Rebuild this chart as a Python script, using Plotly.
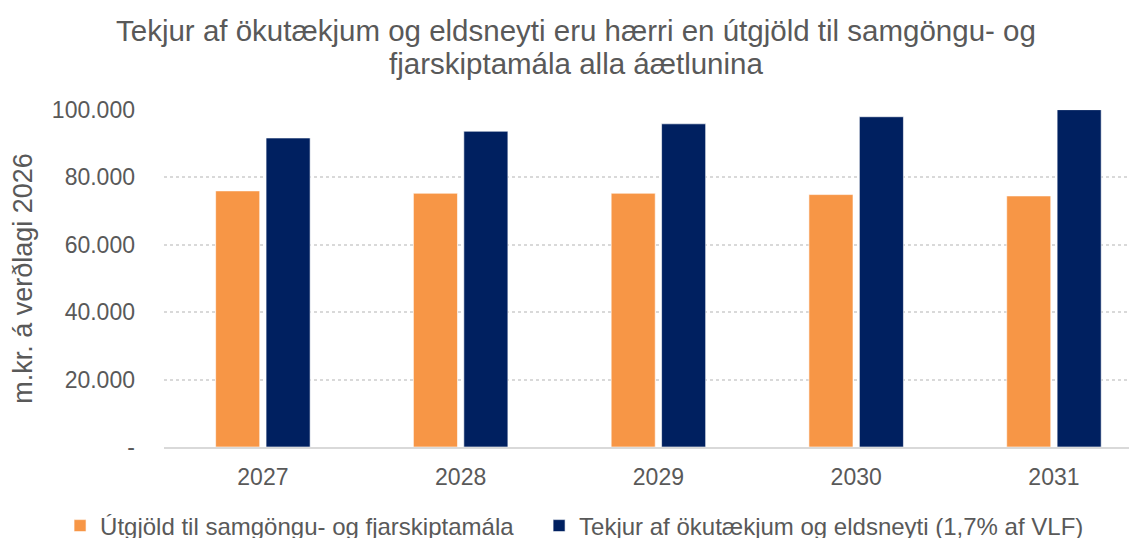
import plotly.graph_objects as go

years = ["2027", "2028", "2029", "2030", "2031"]
utgjold = [76000, 75300, 75300, 74900, 74500]
tekjur = [91700, 93700, 95900, 98000, 100100]
series_names = ["Útgjöld til samgöngu- og fjarskiptamála",
                "Tekjur af ökutækjum og eldsneyti (1,7% af VLF)"]
title_lines = ["Tekjur af ökutækjum og eldsneyti eru hærri en útgjöld til samgöngu- og",
               "fjarskiptamála alla áætlunina"]
tick_vals = [0, 20000, 40000, 60000, 80000, 100000]
tick_text = ["-", "20.000", "40.000", "60.000", "80.000", "100.000"]

FONT = "Liberation Sans, Arial, sans-serif"
GREY = "#595959"

fig = go.Figure()
fig.add_trace(go.Bar(x=years, y=utgjold, name=series_names[0], legend="legend",
                     marker=dict(color="#F79646", line=dict(color="rgba(255,255,255,0.6)", width=1))))
fig.add_trace(go.Bar(x=years, y=tekjur, name=series_names[1], legend="legend2",
                     marker=dict(color="#002060", line=dict(color="rgba(255,255,255,0.6)", width=1))))

legend_style = dict(orientation="h", xanchor="left", yref="container", y=0.0226,
                    yanchor="middle", xref="container",
                    font=dict(size=24, color=GREY, family=FONT), itemclick=False,
                    bgcolor="rgba(0,0,0,0)")

fig.update_layout(
    width=1129, height=530,
    paper_bgcolor="white", plot_bgcolor="white",
    margin=dict(l=156, r=0, t=102, b=91, autoexpand=False),
    font=dict(family=FONT, color=GREY, size=23),
    barmode="group", bargap=0.49, bargroupgap=0.126,
    showlegend=True,
    legend=dict(x=0.0461, **legend_style),
    legend2=dict(x=0.4704, **legend_style),
    annotations=[
        dict(text=title_lines[0], xref="paper", yref="paper", x=0.4234, y=1.237,
             xanchor="center", yanchor="middle", showarrow=False,
             font=dict(size=29.5, color=GREY, family=FONT)),
        dict(text=title_lines[1], xref="paper", yref="paper", x=0.4234, y=1.139,
             xanchor="center", yanchor="middle", showarrow=False,
             font=dict(size=29.5, color=GREY, family=FONT)),
    ],
)
fig.update_xaxes(type="category", range=[-0.5, 4.42], showgrid=False, automargin=False,
                 showline=True, linecolor="#D9D9D9", linewidth=1.5,
                 ticks="", ticklabelstandoff=9,
                 tickfont=dict(size=23, color=GREY, family=FONT))
fig.update_yaxes(range=[0, 100000], tickvals=tick_vals, ticktext=tick_text, automargin=False,
                 showgrid=True, gridcolor="#D9D9D9", gridwidth=1.5, griddash="dot",
                 zeroline=False, showline=False, ticks="",
                 ticklabelstandoff=28,
                 tickfont=dict(size=23, color=GREY, family=FONT),
                 title=dict(text="m.kr. á verðlagi 2026", standoff=20,
                            font=dict(size=27, color=GREY, family=FONT)))

fig.write_html("out.html")
